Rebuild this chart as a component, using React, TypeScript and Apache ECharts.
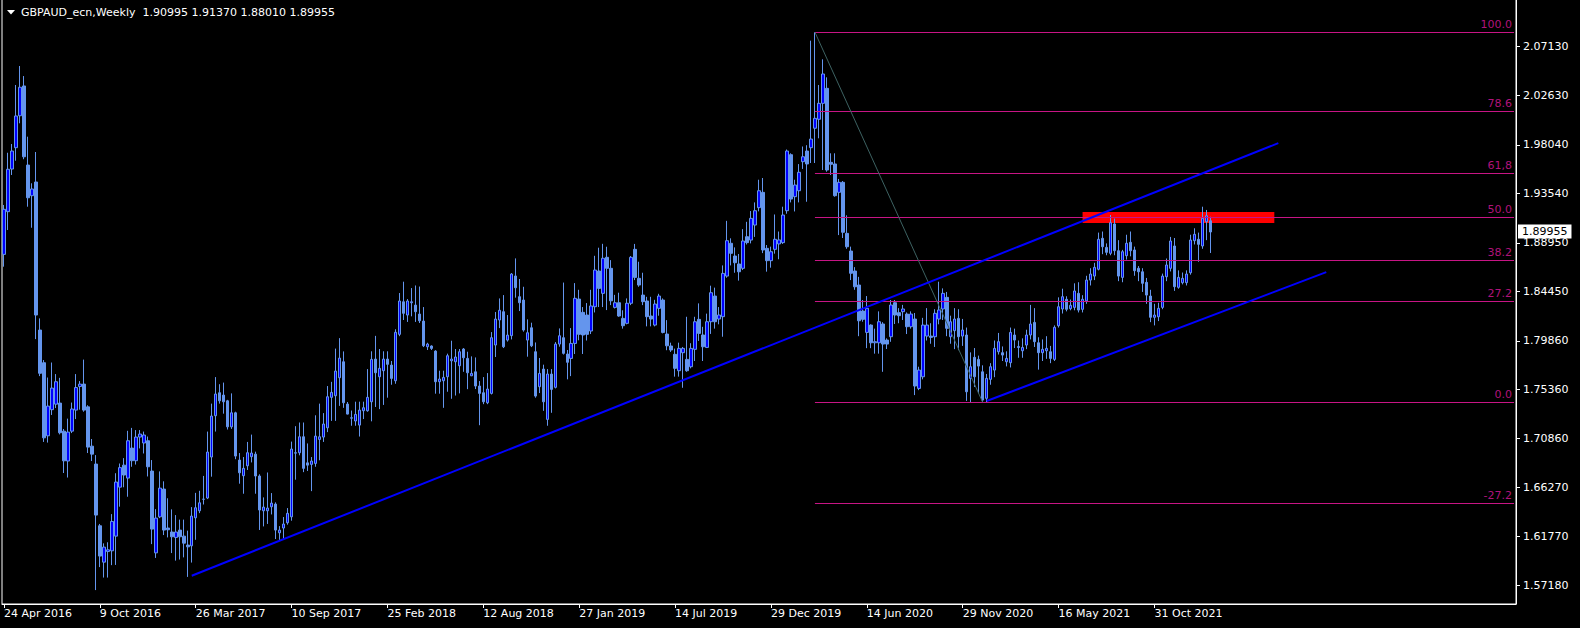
import React, { useEffect, useRef } from "react";
import * as echarts from "echarts";

// ---------- data ----------
const START_DATE = Date.UTC(2016, 3, 24); // first weekly bar: 24 Apr 2016
const TOTAL_SLOTS = 379; // weekly slots shown on the axis (bars + empty future area)
const MONTHS = ["Jan", "Feb", "Mar", "Apr", "May", "Jun", "Jul", "Aug", "Sep", "Oct", "Nov", "Dec"];
const weekLabels: string[] = Array.from({ length: TOTAL_SLOTS }, (_, i) => {
  const d = new Date(START_DATE + i * 7 * 86400000);
  return `${d.getUTCDate()} ${MONTHS[d.getUTCMonth()]} ${d.getUTCFullYear()}`;
});
const LABEL_EVERY = 24;

// weekly bars: [open, high, low, close]
const ohlc: number[][] = [
  [1.8788, 1.9246, 1.8674, 1.9206], [1.9184, 1.9730, 1.9014, 1.9577], [1.9579, 1.9811, 1.9524, 1.9746], [1.9777, 2.0358, 1.9656, 2.0071],
  [2.0073, 2.0534, 2.0003, 2.0337], [2.0349, 2.0441, 1.9670, 1.9693], [1.9616, 1.9879, 1.9230, 1.9313], [1.9332, 1.9447, 1.9035, 1.9394],
  [1.9459, 1.9737, 1.8003, 1.8226], [1.8087, 1.8195, 1.7660, 1.7686], [1.7784, 1.7809, 1.7050, 1.7088], [1.7107, 1.7647, 1.7044, 1.7382],
  [1.7349, 1.7786, 1.7300, 1.7549], [1.7400, 1.7679, 1.7364, 1.7608], [1.7410, 1.7644, 1.7120, 1.7135], [1.7150, 1.7170, 1.6762, 1.6875],
  [1.6873, 1.7266, 1.6720, 1.7141], [1.7150, 1.7415, 1.7132, 1.7355], [1.7345, 1.7679, 1.7262, 1.7554], [1.7564, 1.7614, 1.7349, 1.7586],
  [1.7586, 1.7813, 1.7330, 1.7345], [1.7375, 1.7390, 1.6947, 1.7002], [1.7011, 1.7077, 1.6873, 1.6937], [1.6845, 1.6928, 1.5677, 1.6372],
  [1.6273, 1.6290, 1.5890, 1.5992], [1.5936, 1.6110, 1.5793, 1.6075], [1.6034, 1.6120, 1.5793, 1.6050], [1.6041, 1.6381, 1.5908, 1.6313],
  [1.6177, 1.6760, 1.5910, 1.6678], [1.6631, 1.6850, 1.6450, 1.6812], [1.6835, 1.6900, 1.6630, 1.6743], [1.6715, 1.7153, 1.6542, 1.7061],
  [1.6993, 1.7180, 1.6820, 1.6876], [1.6876, 1.7160, 1.6840, 1.7095], [1.7095, 1.7160, 1.6990, 1.7123], [1.7040, 1.7146, 1.6943, 1.7114],
  [1.7061, 1.7100, 1.6730, 1.6820], [1.6780, 1.6882, 1.6103, 1.6242], [1.6022, 1.6427, 1.5975, 1.6344], [1.6356, 1.6777, 1.6344, 1.6622],
  [1.6613, 1.6685, 1.6187, 1.6233], [1.6252, 1.6528, 1.6165, 1.6236], [1.6215, 1.6425, 1.6020, 1.6171], [1.6165, 1.6372, 1.5950, 1.6215],
  [1.6233, 1.6330, 1.5960, 1.6171], [1.6177, 1.6330, 1.5980, 1.6112], [1.6094, 1.6228, 1.5799, 1.6078], [1.6087, 1.6446, 1.5932, 1.6363],
  [1.6347, 1.6578, 1.6143, 1.6440], [1.6412, 1.6597, 1.6390, 1.6486], [1.6518, 1.6735, 1.6470, 1.6520], [1.6530, 1.7146, 1.6520, 1.6956],
  [1.6910, 1.7405, 1.6728, 1.7290], [1.7293, 1.7651, 1.7146, 1.7494], [1.7506, 1.7585, 1.7405, 1.7431], [1.7484, 1.7600, 1.7312, 1.7422],
  [1.7431, 1.7440, 1.7165, 1.7190], [1.7190, 1.7500, 1.7171, 1.7320], [1.7320, 1.7330, 1.6890, 1.6919], [1.6882, 1.6947, 1.6663, 1.6764],
  [1.6737, 1.6910, 1.6570, 1.6805], [1.6829, 1.7050, 1.6790, 1.6950], [1.6913, 1.7118, 1.6860, 1.6947], [1.6937, 1.6960, 1.6570, 1.6734],
  [1.6734, 1.6750, 1.6234, 1.6419], [1.6412, 1.6536, 1.6267, 1.6446], [1.6412, 1.6767, 1.6290, 1.6437], [1.6449, 1.6576, 1.6378, 1.6483],
  [1.6474, 1.6490, 1.6150, 1.6233], [1.6208, 1.6270, 1.6140, 1.6233], [1.6252, 1.6354, 1.6150, 1.6289], [1.6301, 1.6437, 1.6283, 1.6388],
  [1.6356, 1.7053, 1.6320, 1.6984], [1.6946, 1.7196, 1.6700, 1.6950], [1.6950, 1.7230, 1.6926, 1.7098], [1.7098, 1.7230, 1.6770, 1.6805],
  [1.6856, 1.7036, 1.6781, 1.6835], [1.6842, 1.6910, 1.6594, 1.6873], [1.6851, 1.7297, 1.6820, 1.7104], [1.7073, 1.7405, 1.6880, 1.7098],
  [1.7095, 1.7317, 1.7050, 1.7216], [1.7181, 1.7568, 1.7141, 1.7469], [1.7463, 1.7607, 1.7245, 1.7509], [1.7478, 1.7915, 1.7245, 1.7707],
  [1.7645, 1.8012, 1.7384, 1.7827], [1.7793, 1.7889, 1.7366, 1.7413], [1.7401, 1.7420, 1.7305, 1.7308], [1.7270, 1.7341, 1.7200, 1.7274],
  [1.7244, 1.7423, 1.7200, 1.7305], [1.7206, 1.7423, 1.7100, 1.7345], [1.7339, 1.7423, 1.7262, 1.7367], [1.7339, 1.7725, 1.7330, 1.7463],
  [1.7422, 1.7890, 1.7241, 1.7815], [1.7818, 1.8033, 1.7374, 1.7691], [1.7654, 1.7911, 1.7354, 1.7732], [1.7710, 1.7890, 1.7393, 1.7818],
  [1.7818, 1.7890, 1.7460, 1.7769], [1.7762, 1.7800, 1.7580, 1.7639], [1.7617, 1.8094, 1.7589, 1.8066], [1.8047, 1.8430, 1.8030, 1.8356],
  [1.8349, 1.8535, 1.8180, 1.8242], [1.8226, 1.8374, 1.8162, 1.8356], [1.8340, 1.8476, 1.8214, 1.8349], [1.8318, 1.8500, 1.8162, 1.8257],
  [1.8235, 1.8490, 1.8152, 1.8173], [1.8170, 1.8300, 1.7929, 1.7941], [1.7932, 1.7969, 1.7902, 1.7957], [1.7939, 1.7945, 1.7902, 1.7917],
  [1.7892, 1.7900, 1.7497, 1.7608], [1.7608, 1.7710, 1.7497, 1.7633], [1.7617, 1.7710, 1.7366, 1.7648], [1.7654, 1.7868, 1.7515, 1.7849],
  [1.7802, 1.7988, 1.7450, 1.7818], [1.7793, 1.7911, 1.7480, 1.7837], [1.7756, 1.7911, 1.7500, 1.7886], [1.7911, 1.7920, 1.7700, 1.7830],
  [1.7824, 1.7886, 1.7539, 1.7691], [1.7663, 1.7843, 1.7660, 1.7685], [1.7700, 1.7833, 1.7540, 1.7568], [1.7568, 1.7614, 1.7205, 1.7500],
  [1.7506, 1.7651, 1.7400, 1.7422], [1.7413, 1.7688, 1.7400, 1.7540], [1.7500, 1.8068, 1.7490, 1.8016], [1.7948, 1.8254, 1.7837, 1.8189],
  [1.8180, 1.8380, 1.8105, 1.8270], [1.8257, 1.8411, 1.7920, 1.7932], [1.7994, 1.8226, 1.7980, 1.8040], [1.8035, 1.8615, 1.8000, 1.8606],
  [1.8588, 1.8751, 1.8387, 1.8479], [1.8396, 1.8560, 1.8263, 1.8340], [1.8365, 1.8488, 1.8072, 1.8087], [1.7994, 1.8186, 1.7840, 1.8062],
  [1.8108, 1.8155, 1.7929, 1.7941], [1.7886, 1.7972, 1.7460, 1.7475], [1.7562, 1.7828, 1.7503, 1.7685], [1.7725, 1.7766, 1.7338, 1.7422],
  [1.7259, 1.7725, 1.7200, 1.7679], [1.7679, 1.7725, 1.7320, 1.7537], [1.7556, 1.7975, 1.7546, 1.7957], [1.7957, 1.8102, 1.7933, 1.8034],
  [1.8016, 1.8527, 1.7860, 1.7871], [1.7865, 1.7902, 1.7630, 1.7788], [1.7824, 1.8105, 1.7660, 1.7963], [1.7963, 1.8522, 1.7865, 1.8381],
  [1.8374, 1.8460, 1.7992, 1.8047], [1.8251, 1.8300, 1.7865, 1.8041], [1.8226, 1.8337, 1.7990, 1.8047], [1.8078, 1.8460, 1.8050, 1.8310],
  [1.8303, 1.8775, 1.8250, 1.8643], [1.8634, 1.8850, 1.8300, 1.8473], [1.8427, 1.8886, 1.8300, 1.8752], [1.8761, 1.8859, 1.8272, 1.8659],
  [1.8659, 1.8735, 1.8318, 1.8358], [1.8297, 1.8413, 1.8287, 1.8340], [1.8340, 1.8433, 1.8210, 1.8217], [1.8195, 1.8270, 1.8100, 1.8127],
  [1.8149, 1.8380, 1.8140, 1.8335], [1.8335, 1.8773, 1.8318, 1.8761], [1.8835, 1.8885, 1.8550, 1.8575], [1.8566, 1.8720, 1.8488, 1.8504],
  [1.8411, 1.8618, 1.8318, 1.8350], [1.8356, 1.8395, 1.8121, 1.8211], [1.8217, 1.8395, 1.8121, 1.8189], [1.8133, 1.8367, 1.8121, 1.8328],
  [1.8288, 1.8423, 1.8220, 1.8402], [1.8365, 1.8380, 1.8056, 1.8065], [1.8050, 1.8179, 1.7900, 1.7941], [1.7939, 1.7970, 1.7884, 1.7902],
  [1.7862, 1.7915, 1.7655, 1.7732], [1.7710, 1.7970, 1.7655, 1.7917], [1.7877, 1.7930, 1.7552, 1.7917], [1.7815, 1.8210, 1.7700, 1.7710],
  [1.7747, 1.7965, 1.7732, 1.7917], [1.7908, 1.8210, 1.7800, 1.8164], [1.8186, 1.8334, 1.7986, 1.8056], [1.8041, 1.8117, 1.7800, 1.7932],
  [1.7926, 1.8239, 1.7920, 1.8164], [1.8164, 1.8498, 1.8051, 1.8433], [1.8402, 1.8480, 1.8100, 1.8164], [1.8189, 1.8300, 1.8140, 1.8226],
  [1.8211, 1.8686, 1.8025, 1.8612], [1.8587, 1.9099, 1.8572, 1.8915], [1.8891, 1.8937, 1.8686, 1.8798], [1.8773, 1.8853, 1.8618, 1.8711],
  [1.8699, 1.8792, 1.8545, 1.8627], [1.8659, 1.9022, 1.8643, 1.8912], [1.8952, 1.9090, 1.8880, 1.8897], [1.8921, 1.9190, 1.8890, 1.9122],
  [1.9060, 1.9270, 1.8950, 1.9193], [1.9221, 1.9480, 1.9187, 1.9378], [1.9363, 1.9496, 1.8800, 1.8829], [1.8844, 1.8875, 1.8628, 1.8730],
  [1.8730, 1.8860, 1.8665, 1.8813], [1.8835, 1.9158, 1.8795, 1.8928], [1.8885, 1.9000, 1.8743, 1.8922], [1.8897, 1.9230, 1.8885, 1.9153],
  [1.9193, 1.9760, 1.9165, 1.9746], [1.9712, 1.9725, 1.9270, 1.9301], [1.9323, 1.9480, 1.9186, 1.9431], [1.9378, 1.9625, 1.9270, 1.9549],
  [1.9647, 1.9788, 1.9580, 1.9693], [1.9746, 1.9800, 1.9276, 1.9626], [1.9777, 2.0769, 1.9635, 1.9857], [1.9957, 2.0847, 1.9635, 2.0049],
  [2.0040, 2.0358, 1.9864, 2.0188], [2.0188, 2.0596, 1.9570, 2.0460], [2.0327, 2.0429, 1.9554, 1.9570], [1.9641, 1.9725, 1.9524, 1.9623],
  [1.9626, 1.9725, 1.9323, 1.9332], [1.9363, 1.9487, 1.8967, 1.9456], [1.9456, 1.9468, 1.8940, 1.8993], [1.8983, 1.9150, 1.8840, 1.8859],
  [1.8819, 1.8860, 1.8550, 1.8613], [1.8634, 1.8670, 1.8460, 1.8488], [1.8504, 1.8580, 1.8030, 1.8173], [1.8263, 1.8365, 1.8164, 1.8186],
  [1.8065, 1.8402, 1.7919, 1.8288], [1.8133, 1.8140, 1.7919, 1.7969], [1.7969, 1.8100, 1.7868, 1.7979], [1.7969, 1.8260, 1.7868, 1.8164],
  [1.8143, 1.8160, 1.7700, 1.7957], [1.7994, 1.8010, 1.7911, 1.7957], [1.8025, 1.8365, 1.7978, 1.8319], [1.8340, 1.8365, 1.8143, 1.8226],
  [1.8248, 1.8290, 1.8150, 1.8220], [1.8257, 1.8320, 1.8180, 1.8282], [1.8235, 1.8250, 1.8050, 1.8118], [1.8118, 1.8260, 1.8100, 1.8235],
  [1.8189, 1.8245, 1.7484, 1.7568], [1.7546, 1.7747, 1.7530, 1.7716], [1.7654, 1.8200, 1.7630, 1.8133], [1.8031, 1.8290, 1.7990, 1.8133],
  [1.8031, 1.8150, 1.7960, 1.8019], [1.8025, 1.8280, 1.7930, 1.8242], [1.8189, 1.8535, 1.8140, 1.8273], [1.8282, 1.8473, 1.8180, 1.8427],
  [1.8390, 1.8440, 1.8030, 1.8103], [1.8025, 1.8220, 1.7960, 1.8164], [1.8081, 1.8290, 1.7910, 1.8189], [1.8195, 1.8280, 1.7900, 1.8025],
  [1.8031, 1.8190, 1.7940, 1.8087], [1.8041, 1.8110, 1.7430, 1.7515], [1.7639, 1.7880, 1.7420, 1.7747], [1.7834, 1.7920, 1.7560, 1.7654],
  [1.7815, 1.7850, 1.7500, 1.7753], [1.7700, 1.7760, 1.7417, 1.7438], [1.7454, 1.7680, 1.7420, 1.7639], [1.7630, 1.7780, 1.7580, 1.7747],
  [1.7716, 1.7990, 1.7650, 1.7917], [1.7886, 1.8060, 1.7860, 1.7979], [1.7877, 1.7935, 1.7800, 1.7855], [1.7793, 1.7890, 1.7750, 1.7824],
  [1.7784, 1.8110, 1.7740, 1.8065], [1.8041, 1.8100, 1.7920, 1.7994], [1.7925, 1.7990, 1.7830, 1.7935], [1.7895, 1.8010, 1.7830, 1.7926],
  [1.7948, 1.8090, 1.7910, 1.8041], [1.8041, 1.8320, 1.8000, 1.8143], [1.8158, 1.8290, 1.7930, 1.7979], [1.7969, 1.8020, 1.7720, 1.7877],
  [1.7877, 1.8000, 1.7800, 1.7908], [1.7895, 1.8030, 1.7820, 1.7917], [1.7886, 1.7940, 1.7780, 1.7824], [1.7815, 1.8130, 1.7800, 1.8112],
  [1.8127, 1.8390, 1.8110, 1.8303], [1.8282, 1.8470, 1.8240, 1.8396], [1.8372, 1.8400, 1.8260, 1.8279], [1.8285, 1.8370, 1.8270, 1.8316],
  [1.8297, 1.8520, 1.8270, 1.8449], [1.8427, 1.8530, 1.8250, 1.8272], [1.8279, 1.8410, 1.8250, 1.8372], [1.8358, 1.8590, 1.8330, 1.8550],
  [1.8550, 1.8660, 1.8500, 1.8606], [1.8587, 1.8710, 1.8550, 1.8668], [1.8650, 1.8990, 1.8640, 1.8928], [1.8937, 1.9000, 1.8790, 1.8859],
  [1.8853, 1.8890, 1.8780, 1.8807], [1.8798, 1.9153, 1.8780, 1.9082], [1.9070, 1.9120, 1.8780, 1.8822], [1.8822, 1.8920, 1.8540, 1.8587],
  [1.8575, 1.8830, 1.8530, 1.8813], [1.8776, 1.8970, 1.8740, 1.8891], [1.8900, 1.9000, 1.8770, 1.8822], [1.8829, 1.8860, 1.8590, 1.8637],
  [1.8659, 1.8680, 1.8540, 1.8627], [1.8627, 1.8660, 1.8440, 1.8520], [1.8529, 1.8570, 1.8330, 1.8411], [1.8402, 1.8460, 1.8160, 1.8205],
  [1.8205, 1.8330, 1.8130, 1.8226], [1.8210, 1.8340, 1.8170, 1.8288], [1.8297, 1.8610, 1.8280, 1.8587], [1.8581, 1.8750, 1.8540, 1.8690],
  [1.8659, 1.8950, 1.8630, 1.8912], [1.8866, 1.8940, 1.8450, 1.8489], [1.8483, 1.8640, 1.8470, 1.8575], [1.8526, 1.8620, 1.8510, 1.8566],
  [1.8526, 1.8640, 1.8500, 1.8606], [1.8618, 1.8970, 1.8600, 1.8921], [1.8915, 1.9030, 1.8880, 1.8974], [1.8928, 1.8990, 1.8720, 1.8881],
  [1.8866, 1.9230, 1.8840, 1.9122], [1.9091, 1.9200, 1.8920, 1.9146], [1.90995, 1.9137, 1.8801, 1.89955],
];

const priceTicks = [2.0713, 2.0263, 1.9804, 1.9354, 1.8895, 1.8445, 1.7986, 1.7536, 1.7086, 1.6627, 1.6177, 1.5718];
const PRICE_MIN = 1.5548;
const PRICE_MAX = 2.1155;

const fibLabels = ["100.0", "78.6", "61,8", "50.0", "38.2", "27.2", "0.0", "-27.2"];
const fibPrices = [2.0847, 2.0117, 1.954, 1.9132, 1.8733, 1.8353, 1.7417, 1.6484];
const fibStart = 203;
const fibEnd = 378;
const fibDiagonal = [[203, 2.0847], [245, 1.7417]];
const channelUpper = [[47, 1.581], [319, 1.9819]];
const channelLower = [[246, 1.7429], [331, 1.8624]];
const resistanceZone = [[270, 1.9181], [318, 1.9079]];
const lastBar = { open: "1.90995", high: "1.91370", low: "1.88010", close: "1.89955" };
const lastPrice = 1.89955;

const FONT = '"DejaVu Sans", Tahoma, sans-serif';

export default function App() {
  const ref = useRef<HTMLDivElement>(null);

  useEffect(() => {
    document.body.style.margin = "0";
    document.body.style.background = "#000";
    const chart = echarts.init(ref.current!, null, { renderer: "svg" });

    const showLabel = (i: number) => i % LABEL_EVERY === 0 && i < ohlc.length;

    const fibLines: any[] = fibPrices.map((p, k) => [
      {
        coord: [fibStart, p],
        lineStyle: { color: "#c71585", width: 1, type: "solid" },
        label: {
          show: true,
          formatter: fibLabels[k],
          position: "insideEndTop",
          distance: 2,
          color: "#b0137a",
          fontSize: 11,
          fontFamily: FONT,
        },
      },
      { coord: [fibEnd, p] },
    ]);

    const trend = (pts: number[][], color: string, width: number) => [
      { coord: pts[0], lineStyle: { color, width, type: "solid" }, label: { show: false } },
      { coord: pts[1] },
    ];

    chart.setOption({
      animation: false,
      backgroundColor: "#000",
      grid: {
        left: 2,
        right: 64,
        top: -1,
        bottom: 24,
        show: true,
        borderColor: "#ffffff",
        borderWidth: 1,
        backgroundColor: "transparent",
        containLabel: false,
        outerBoundsMode: "none",
      },
      graphic: [
        {
          type: "polygon",
          shape: { points: [[7, 10], [15, 10], [11, 14.5]] },
          style: { fill: "#ffffff" },
        },
        {
          type: "text",
          x: 21,
          y: 12,
          style: {
            text: `GBPAUD_ecn,Weekly\u00a0\u00a0${lastBar.open} ${lastBar.high} ${lastBar.low} ${lastBar.close}`,
            fill: "#ffffff",
            font: `11px ${FONT}`,
            verticalAlign: "middle",
          },
        },
      ],
      xAxis: {
        type: "category",
        data: weekLabels,
        boundaryGap: true,
        axisLine: { show: true, lineStyle: { color: "#ffffff", width: 1 } },
        axisTick: {
          show: true,
          interval: (i: number) => showLabel(i),
          alignWithLabel: true,
          length: 4,
          lineStyle: { color: "#ffffff" },
        },
        axisLabel: {
          interval: (i: number) => showLabel(i),
          align: "left",
          color: "#ffffff",
          fontSize: 11,
          fontFamily: FONT,
          margin: 4,
        },
        splitLine: { show: false },
      },
      yAxis: {
        type: "value",
        position: "right",
        min: PRICE_MIN,
        max: PRICE_MAX,
        scale: true,
        splitLine: { show: false },
        axisLine: { show: true, lineStyle: { color: "#ffffff" } },
        axisTick: { show: true, length: 4, customValues: priceTicks, lineStyle: { color: "#ffffff" } },
        axisLabel: {
          customValues: priceTicks,
          formatter: (v: number) => v.toFixed(5),
          color: "#ffffff",
          fontSize: 11,
          fontFamily: FONT,
          margin: 7,
        },
      },
      series: [
        {
          type: "candlestick",
          name: "GBPAUD",
          silent: true,
          barWidth: 3,
          data: ohlc.map(([o, h, l, c]) => [o, c, l, h]),
          itemStyle: {
            color: "#0000ff",
            color0: "#6495ed",
            borderColor: "#6495ed",
            borderColor0: "#6495ed",
            borderWidth: 1,
          },
          markArea: {
            silent: true,
            z: 1,
            itemStyle: { color: "#ff0000" },
            data: [[{ coord: resistanceZone[0] }, { coord: resistanceZone[1] }]],
          },
          markLine: {
            silent: true,
            symbol: ["none", "none"],
            animation: false,
            z: 5,
            data: [
              ...fibLines,
              trend(fibDiagonal, "#3d6262", 1),
              trend(channelUpper, "#0000ff", 2),
              trend(channelLower, "#0000ff", 2),
              {
                yAxis: lastPrice,
                lineStyle: { color: "rgba(0,0,0,0)", width: 0 },
                label: {
                  show: true,
                  position: "end",
                  distance: 2,
                  formatter: lastPrice.toFixed(5),
                  color: "#000000",
                  backgroundColor: "#ffffff",
                  padding: [2, 4, 1, 4],
                  fontSize: 11,
                  fontFamily: FONT,
                },
              },
            ],
          },
        },
      ],
    });

    return () => chart.dispose();
  }, []);

  return <div ref={ref} style={{ position: "fixed", left: 0, top: 0, width: 1580, height: 628 }} />;
}
